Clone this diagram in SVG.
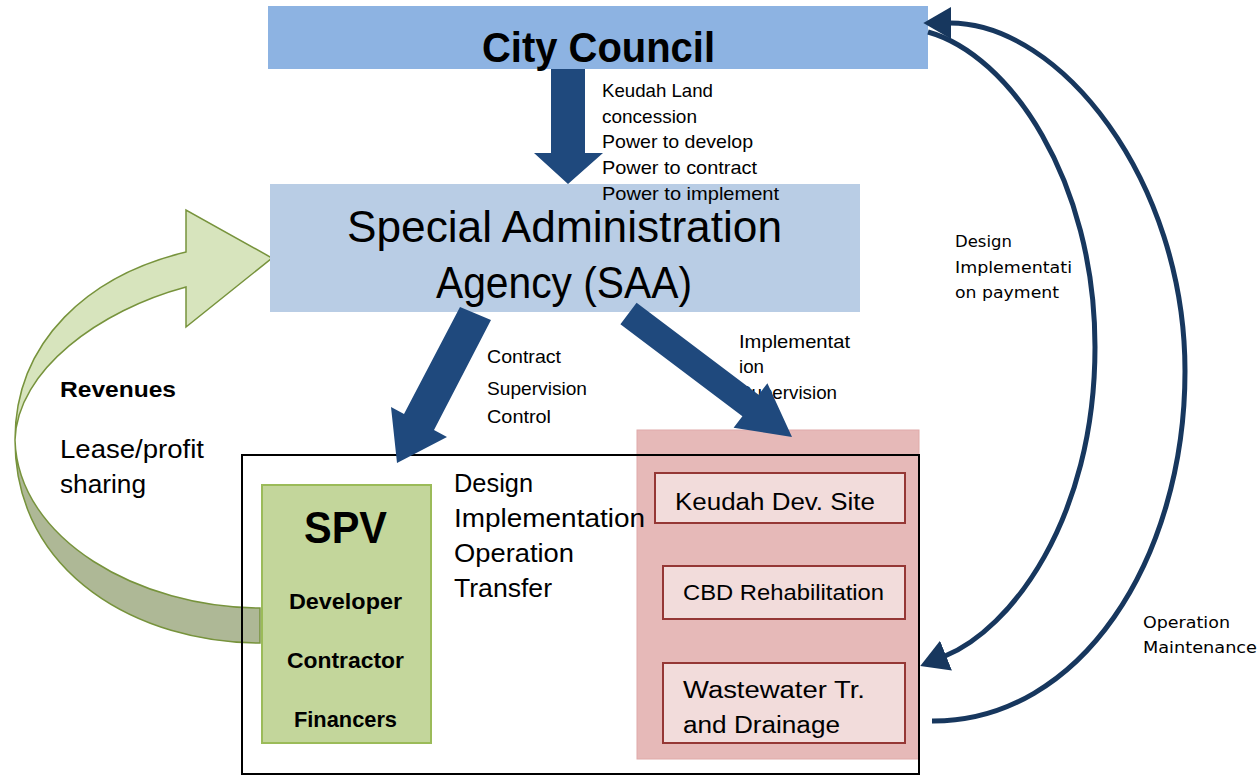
<svg xmlns="http://www.w3.org/2000/svg" width="1260" height="775" viewBox="0 0 1260 775">
<defs>
<style>
.t{font-family:"Liberation Sans",Arial,sans-serif;fill:#000}
.b{font-weight:bold}
.v{font-family:"DejaVu Sans",Verdana,sans-serif;fill:#000}
.big{fill:#1F497D}
.arc{fill:none;stroke:#17375E;stroke-width:5}
.sub{fill:#F2DCDB;stroke:#953735;stroke-width:2}
.band{stroke:#77933C;stroke-width:1.5}
</style>
<marker id="ah" markerUnits="userSpaceOnUse" markerWidth="28" markerHeight="32" viewBox="0 0 26 30" refX="1" refY="15" orient="auto">
<path d="M0,0 L26,15 L0,30 Z" fill="#17375E"/>
</marker>
</defs>
<rect width="1260" height="775" fill="#fff"/>

<g id="connectors-back">
<path class="band" fill="#D7E4BD" d="M186,252 C90,275 15,340 15,440 C17,370 100,310 186,287 L186,327 L272,258 L186,210 Z"/>
<path class="band" fill="#AEB896" d="M15,440 C15,575 140,643 260,643 L260,608 C140,608 18,540 15,440 Z"/>
</g>

<g id="city-council">
<rect x="268" y="6" width="660" height="63" fill="#8DB3E2"/>
<text class="t b" x="482" y="62" font-size="42" textLength="233" lengthAdjust="spacingAndGlyphs">City Council</text>
</g>

<g id="saa">
<rect x="270" y="184" width="590" height="128" fill="#B9CDE5"/>
<text class="t" x="347" y="242" font-size="44" textLength="435" lengthAdjust="spacingAndGlyphs">Special Administration</text>
<text class="t" x="436" y="298" font-size="44" textLength="256" lengthAdjust="spacingAndGlyphs">Agency (SAA)</text>
</g>

<g id="projects">
<rect x="637" y="430" width="282" height="329" fill="#E6B9B8" stroke="#E0AAA9" stroke-width="1"/>
</g>

<g id="frame">
<rect x="242" y="455" width="677" height="319" fill="none" stroke="#000" stroke-width="2"/>
</g>

<g id="keudah">
<rect class="sub" x="655" y="473" width="250" height="50"/>
<text class="t" x="675" y="510" font-size="23" textLength="200" lengthAdjust="spacingAndGlyphs">Keudah Dev. Site</text>
</g>
<g id="cbd">
<rect class="sub" x="663" y="566" width="242" height="53"/>
<text class="t" x="683" y="600" font-size="22" textLength="201" lengthAdjust="spacingAndGlyphs">CBD Rehabilitation</text>
</g>
<g id="wastewater">
<rect class="sub" x="663" y="663" width="242" height="80"/>
<text class="t" x="683" y="698" font-size="23" textLength="182" lengthAdjust="spacingAndGlyphs">Wastewater Tr.</text>
<text class="t" x="683" y="733" font-size="23" textLength="157" lengthAdjust="spacingAndGlyphs">and Drainage</text>
</g>

<g id="spv">
<rect x="262" y="485" width="169" height="258" fill="#C3D69B" stroke="#9BBB59" stroke-width="2"/>
<text class="t b" x="304" y="543" font-size="45" textLength="83" lengthAdjust="spacingAndGlyphs">SPV</text>
<text class="t b" x="289" y="609" font-size="22" textLength="113" lengthAdjust="spacingAndGlyphs">Developer</text>
<text class="t b" x="287" y="668" font-size="22" textLength="117" lengthAdjust="spacingAndGlyphs">Contractor</text>
<text class="t b" x="294" y="727" font-size="22" textLength="103" lengthAdjust="spacingAndGlyphs">Financers</text>
</g>

<g id="labels">
<text class="t" x="602" y="97" font-size="18.5" textLength="111" lengthAdjust="spacingAndGlyphs">Keudah Land</text>
<text class="t" x="602" y="123" font-size="18.5" textLength="95" lengthAdjust="spacingAndGlyphs">concession</text>
<text class="t" x="602" y="148" font-size="18.5" textLength="151" lengthAdjust="spacingAndGlyphs">Power to develop</text>
<text class="t" x="602" y="174" font-size="18.5" textLength="155" lengthAdjust="spacingAndGlyphs">Power to contract</text>
<text class="t" x="602" y="200" font-size="18.5" textLength="177" lengthAdjust="spacingAndGlyphs">Power to implement</text>

<text class="t" x="487" y="363" font-size="18.5" textLength="74" lengthAdjust="spacingAndGlyphs">Contract</text>
<text class="t" x="487" y="395" font-size="18.5" textLength="100" lengthAdjust="spacingAndGlyphs">Supervision</text>
<text class="t" x="487" y="423" font-size="18.5" textLength="64" lengthAdjust="spacingAndGlyphs">Control</text>

<text class="t" x="739" y="348" font-size="18.5" textLength="111" lengthAdjust="spacingAndGlyphs">Implementat</text>
<text class="t" x="739" y="373" font-size="18.5" textLength="25" lengthAdjust="spacingAndGlyphs">ion</text>
<text class="t" x="739" y="399" font-size="18.5" textLength="98" lengthAdjust="spacingAndGlyphs">Supervision</text>

<text class="t" x="454" y="492" font-size="25" textLength="79" lengthAdjust="spacingAndGlyphs">Design</text>
<text class="t" x="454" y="527" font-size="25" textLength="191" lengthAdjust="spacingAndGlyphs">Implementation</text>
<text class="t" x="454" y="562" font-size="25" textLength="120" lengthAdjust="spacingAndGlyphs">Operation</text>
<text class="t" x="454" y="597" font-size="25" textLength="98" lengthAdjust="spacingAndGlyphs">Transfer</text>

<text class="t b" x="60" y="397" font-size="22" textLength="116" lengthAdjust="spacingAndGlyphs">Revenues</text>
<text class="t" x="60" y="458" font-size="25" textLength="144" lengthAdjust="spacingAndGlyphs">Lease/profit</text>
<text class="t" x="60" y="493" font-size="25" textLength="86" lengthAdjust="spacingAndGlyphs">sharing</text>

<text class="v" x="955" y="247" font-size="15.5" textLength="57" lengthAdjust="spacingAndGlyphs">Design</text>
<text class="v" x="955" y="273" font-size="15.5" textLength="117" lengthAdjust="spacingAndGlyphs">Implementati</text>
<text class="v" x="955" y="298" font-size="15.5" textLength="104" lengthAdjust="spacingAndGlyphs">on payment</text>

<text class="v" x="1143" y="628" font-size="15.5" textLength="87" lengthAdjust="spacingAndGlyphs">Operation</text>
<text class="v" x="1143" y="653" font-size="15.5" textLength="114" lengthAdjust="spacingAndGlyphs">Maintenance</text>
</g>

<g id="connectors">
<polygon class="big" points="551,69 585,69 585,153 603,153 568,184 534,153 551,153"/>
<polygon class="big" points="460,307 491,320 434,430 447,437 397,463 391,407 404,414"/>
<polygon class="big" points="636.6,302.7 758.6,394.7 767.4,383.2 792,437 733.6,427.8 742.4,416.3 620.4,324.3"/>
<path class="arc" d="M928,32 C1010,55 1095,180 1095,347 C1095,520 1010,630 945,656" marker-end="url(#ah)"/>
<path class="arc" d="M932,721 C1080,722 1185,560 1185,371 C1185,180 1060,23 950,23" marker-end="url(#ah)"/>
</g>
</svg>
